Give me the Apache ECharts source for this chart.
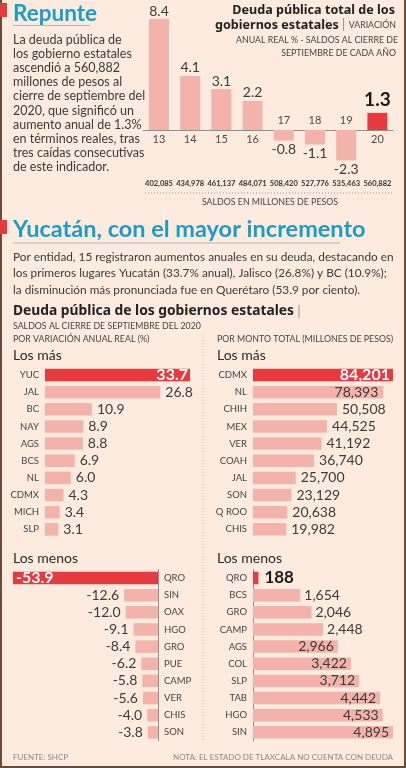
<!DOCTYPE html>
<html><head><meta charset="utf-8">
<script src="https://cdn.jsdelivr.net/npm/echarts@6/dist/echarts.min.js"></script>
<style>html,body{margin:0;padding:0;background:#fdebdf;}#c{width:406px;height:768px;}</style>
</head><body><div id="c"></div>
<script>
// ---- data ----
const years = ['13','14','15','16','17','18','19','20'];
const varAnual = [8.4, 4.1, 3.1, 2.2, -0.8, -1.1, -2.3, 1.3];
const saldos = [402085, 434978, 461137, 484071, 508420, 527776, 535463, 560882];

const masVarStates = ['YUC','JAL','BC','NAY','AGS','BCS','NL','CDMX','MICH','SLP'];
const masVarValues = [33.7, 26.8, 10.9, 8.9, 8.8, 6.9, 6.0, 4.3, 3.4, 3.1];

const masMontoStates = ['CDMX','NL','CHIH','MEX','VER','COAH','JAL','SON','Q ROO','CHIS'];
const masMontoValues = [84201, 78393, 50508, 44525, 41192, 36740, 25700, 23129, 20638, 19982];

const menosVarStates = ['QRO','SIN','OAX','HGO','GRO','PUE','CAMP','VER','CHIS','SON'];
const menosVarValues = [-53.9, -12.6, -12.0, -9.1, -8.4, -6.2, -5.8, -5.6, -4.0, -3.8];

const menosMontoStates = ['QRO','BCS','GRO','CAMP','AGS','COL','SLP','TAB','HGO','SIN'];
const menosMontoValues = [188, 1654, 2046, 2448, 2966, 3422, 3712, 4442, 4533, 4895];

// ---- style ----
const FF = 'Lato, "Noto Sans", sans-serif';
const FB = '"Noto Sans", Lato, sans-serif';
const PINK = '#f3b3aa', RED = '#e53a3e', TXT = '#3b3b3b', TEAL = '#1c9cc6', BG = '#fdebdf';
const fmtN = v => v.toLocaleString('en-US');
const fmt1 = v => v.toFixed(1);

const chart = echarts.init(document.getElementById('c'), null, {renderer:'canvas'});

function t(x, y, text, font, fill, align) {
  return {type:'text', x, y, silent:true,
    style:{text, font, fill: fill || TXT, textAlign: align || 'left', textVerticalAlign:'middle'}};
}
function hline(x1, x2, y, color, dash, w) {
  return {type:'line', silent:true, shape:{x1, y1:y, x2, y2:y},
    style:{stroke:color, lineWidth:w||1, lineDash:dash||null}};
}

const para1 = ['La deuda pública de','los gobierno estatales','ascendió a 560,882','millones de pesos al',
  'cierre de septiembre del','2020, que significó un','aumento anual de 1.3%','en términos reales, tras',
  'tres caídas consecutivas','de este indicador.'];
const para2 = ['Por entidad, 15 registraron aumentos anuales en su deuda, destacando en',
  'los primeros lugares Yucatán (33.7% anual), Jalisco (26.8%) y BC (10.9%);',
  'la disminución más pronunciada fue en Querétaro (53.9 por ciento).'];

const SM = '8.8px ' + FF;
const graphics = [
  // borders
  {type:'rect', silent:true, shape:{x:0,y:0,width:2,height:768}, style:{fill:'#6b4a3c'}},
  {type:'rect', silent:true, shape:{x:404,y:0,width:2,height:768}, style:{fill:'#6b4a3c'}},
  {type:'rect', silent:true, shape:{x:0,y:766,width:406,height:2}, style:{fill:'#6b4a3c'}},
  // markers
  {type:'rect', silent:true, shape:{x:0,y:3,width:7,height:14}, style:{fill:RED}},
  {type:'rect', silent:true, shape:{x:0,y:220,width:7,height:14}, style:{fill:RED}},
  // titles
  t(13, 14, 'Repunte', 'bold 22.5px ' + FF, TEAL),
  hline(13, 90, 25.5, '#a9b9bd'),
  t(13, 229, 'Yucatán, con el mayor incremento', 'bold 23.5px ' + FF, TEAL),
  hline(13, 340, 243, '#a9b9bd'),
  // top chart title
  t(395, 10, 'Deuda pública total de los', 'bold 12.6px ' + FB, '#222', 'right'),
  {type:'text', x:396, y:25, silent:true, style:{
    text:'{b|gobiernos estatales} {l|| }{s|VARIACIÓN}', textAlign:'right', textVerticalAlign:'middle',
    rich:{b:{font:'bold 12.6px ' + FB, fill:'#222'}, l:{font:'13px ' + FF, fill:'#888'}, s:{font:SM, fill:'#444'}}}},
  t(398, 40, 'ANUAL REAL % - SALDOS AL CIERRE DE', SM, '#444', 'right'),
  t(396, 53, 'SEPTIEMBRE DE CADA AÑO', SM, '#444', 'right'),
  hline(145, 393, 193, '#9a9a9a', [1,2]),
  t(270, 202, 'SALDOS EN MILLONES DE PESOS', SM, '#444', 'center'),
  // section 2 headings
  {type:'text', x:13, y:311, silent:true, style:{
    text:'{b|Deuda pública de los gobiernos estatales} {l||}', textAlign:'left', textVerticalAlign:'middle',
    rich:{b:{font:'bold 13.8px ' + FB, fill:'#222'}, l:{font:'14px ' + FF, fill:'#999'}}}},
  t(13, 326, 'SALDOS AL CIERRE DE SEPTIEMBRE DEL 2020', SM, '#444'),
  t(13, 339, 'POR VARIACIÓN ANUAL REAL (%)', SM, '#444'),
  t(217, 339, 'POR MONTO TOTAL (MILLONES DE PESOS)', SM, '#444'),
  t(13, 355, 'Los más', '14px ' + FF, '#2a2a2a'),
  t(217, 355, 'Los más', '14px ' + FF, '#2a2a2a'),
  t(13, 558, 'Los menos', '14px ' + FF, '#2a2a2a'),
  t(217, 558, 'Los menos', '14px ' + FF, '#2a2a2a'),
  {type:'line', silent:true, shape:{x1:203,y1:334,x2:203,y2:742}, style:{stroke:'#c9b9b0', lineWidth:1, lineDash:[1,2]}},
  // footer
  t(13, 757, 'FUENTE: SHCP', '8px ' + FF, '#8a8a8a'),
  t(393, 757, 'NOTA: EL ESTADO DE TLAXCALA NO CUENTA CON DEUDA', '8px ' + FF, '#8a8a8a', 'right')
];
para1.forEach((s, i) => graphics.push(t(13, 40 + i * 14.1, s, '12.5px ' + FF, TXT)));
para2.forEach((s, i) => graphics.push(t(13, 257 + i * 16.6, s, '11.8px ' + FF, TXT)));

// ---- grids ----
const rowH = 17.15;
const grids = [
  {left:143.4, width:249.6, top:11.2, height:158.4},            // 0 top
  {left:45, width:150.6, top:375 - rowH/2, height:rowH*10},      // 1 mas var
  {left:253, width:149.6, top:375 - rowH/2, height:rowH*10},     // 2 mas monto
  {left:10, width:148, top:578 - rowH/2, height:rowH*10},        // 3 menos var
  {left:253, width:143, top:578 - rowH/2, height:rowH*10}        // 4 menos monto
];

const stateLabel = {fontSize:9.5, color:'#444', fontFamily:FF};
function catY(gi, data, pos, showLine) {
  return {type:'category', gridIndex:gi, data, inverse:true, position:pos||'left',
    axisLine:{show:!!showLine, lineStyle:{color:'#8f8f8f'}}, axisTick:{show:false},
    axisLabel:Object.assign({margin:6}, stateLabel)};
}
function valX(gi, min, max) {
  return {type:'value', gridIndex:gi, min, max, show:false, splitLine:{show:false}};
}

const valFont = {fontSize:14, color:TXT, fontFamily:FF};

const series = [
  // top chart bars
  {type:'bar', xAxisIndex:0, yAxisIndex:0, barWidth:20, z:2,
    data: varAnual.map((v, i) => ({value:v,
      itemStyle:{color: i === varAnual.length - 1 ? RED : PINK},
      label: i === varAnual.length - 1
        ? {show:true, position:'top', distance:3, fontSize:19, fontWeight:'bold', color:'#1a1a1a', fontFamily:FF, formatter:p=>fmt1(p.value)}
        : {show:true, position: v >= 0 ? 'top' : 'bottom', distance: v >= 0 ? 1 : 2, fontSize:14, color:TXT, fontFamily:FF, formatter:p=>fmt1(p.value)}
    }))},
  // year labels overlay
  {type:'bar', xAxisIndex:0, yAxisIndex:0, barWidth:20, barGap:'-100%', z:1, silent:true,
    itemStyle:{color:'rgba(0,0,0,0)'},
    data: varAnual.map((v, i) => ({value:v,
      label:{show:true, position: v >= 0 ? 'bottom' : 'top', distance:4, fontSize:11, color:'#4a4a4a', fontFamily:FF,
        formatter: () => years[i]}}))},
  // mas var
  {type:'bar', xAxisIndex:1, yAxisIndex:1, barWidth:12.5,
    data: masVarValues.map((v, i) => ({value:v,
      itemStyle:{color: i === 0 ? RED : PINK},
      label: i === 0
        ? {show:true, position:'insideRight', distance:2, fontSize:16, fontWeight:'bold', color:'#fff', fontFamily:FF, formatter:p=>fmt1(p.value)}
        : Object.assign({show:true, position:'right', distance:5, formatter:p=>fmt1(p.value)}, valFont)}))},
  // mas monto
  {type:'bar', xAxisIndex:2, yAxisIndex:2, barWidth:12.5,
    data: masMontoValues.map((v, i) => ({value:v,
      itemStyle:{color: i === 0 ? RED : PINK},
      label: i === 0
        ? {show:true, position:'insideRight', distance:3, fontSize:16, fontWeight:'bold', color:'#fff', fontFamily:FF, formatter:p=>fmtN(p.value)}
        : Object.assign({show:true, position: v / masMontoValues[0] > 0.9 ? 'insideRight' : 'right', distance:5, formatter:p=>fmtN(p.value)}, valFont)}))},
  // menos var
  {type:'bar', xAxisIndex:3, yAxisIndex:3, barWidth:12.5,
    data: menosVarValues.map((v, i) => ({value:v,
      itemStyle:{color: i === 0 ? RED : PINK},
      label: i === 0
        ? {show:true, position:'insideLeft', distance:3, fontSize:16, fontWeight:'bold', color:'#fff', fontFamily:FF, formatter:p=>fmt1(p.value)}
        : Object.assign({show:true, position:'left', distance:5, formatter:p=>fmt1(p.value)}, valFont)}))},
  // menos monto
  {type:'bar', xAxisIndex:4, yAxisIndex:4, barWidth:12.5,
    data: menosMontoValues.map((v, i) => ({value:v,
      itemStyle:{color: i === 0 ? RED : PINK},
      label: i === 0
        ? {show:true, position:'right', distance:6, fontSize:17, fontWeight:'bold', color:'#1a1a1a', fontFamily:FF, formatter:p=>fmtN(p.value)}
        : Object.assign({show:true, position: v / menosMontoValues[menosMontoValues.length-1] > 0.55 ? 'insideRight' : 'right', distance:4, formatter:p=>fmtN(p.value)}, valFont)}))}
];

chart.setOption({
  backgroundColor: BG,
  animation:false,
  grid: grids,
  xAxis: [
    {type:'category', gridIndex:0, data:years,
      axisLine:{onZero:true, lineStyle:{color:'#8f8f8f'}}, axisTick:{show:false},
      axisLabel:{interval:0, margin:10, fontSize:7.5, fontWeight:'bold', color:'#333', fontFamily:FF,
        formatter:(v, i) => fmtN(saldos[i])}},
    valX(1, 0, 35),
    valX(2, 0, 90000),
    valX(3, -55, 0),
    valX(4, 0, 5000)
  ],
  yAxis: [
    {type:'value', gridIndex:0, min:-3, max:9, show:false, splitLine:{show:false}},
    catY(1, masVarStates),
    catY(2, masMontoStates),
    catY(3, menosVarStates, 'right', true),
    catY(4, menosMontoStates, 'left', true)
  ],
  series,
  graphic: graphics
});
</script></body></html>
